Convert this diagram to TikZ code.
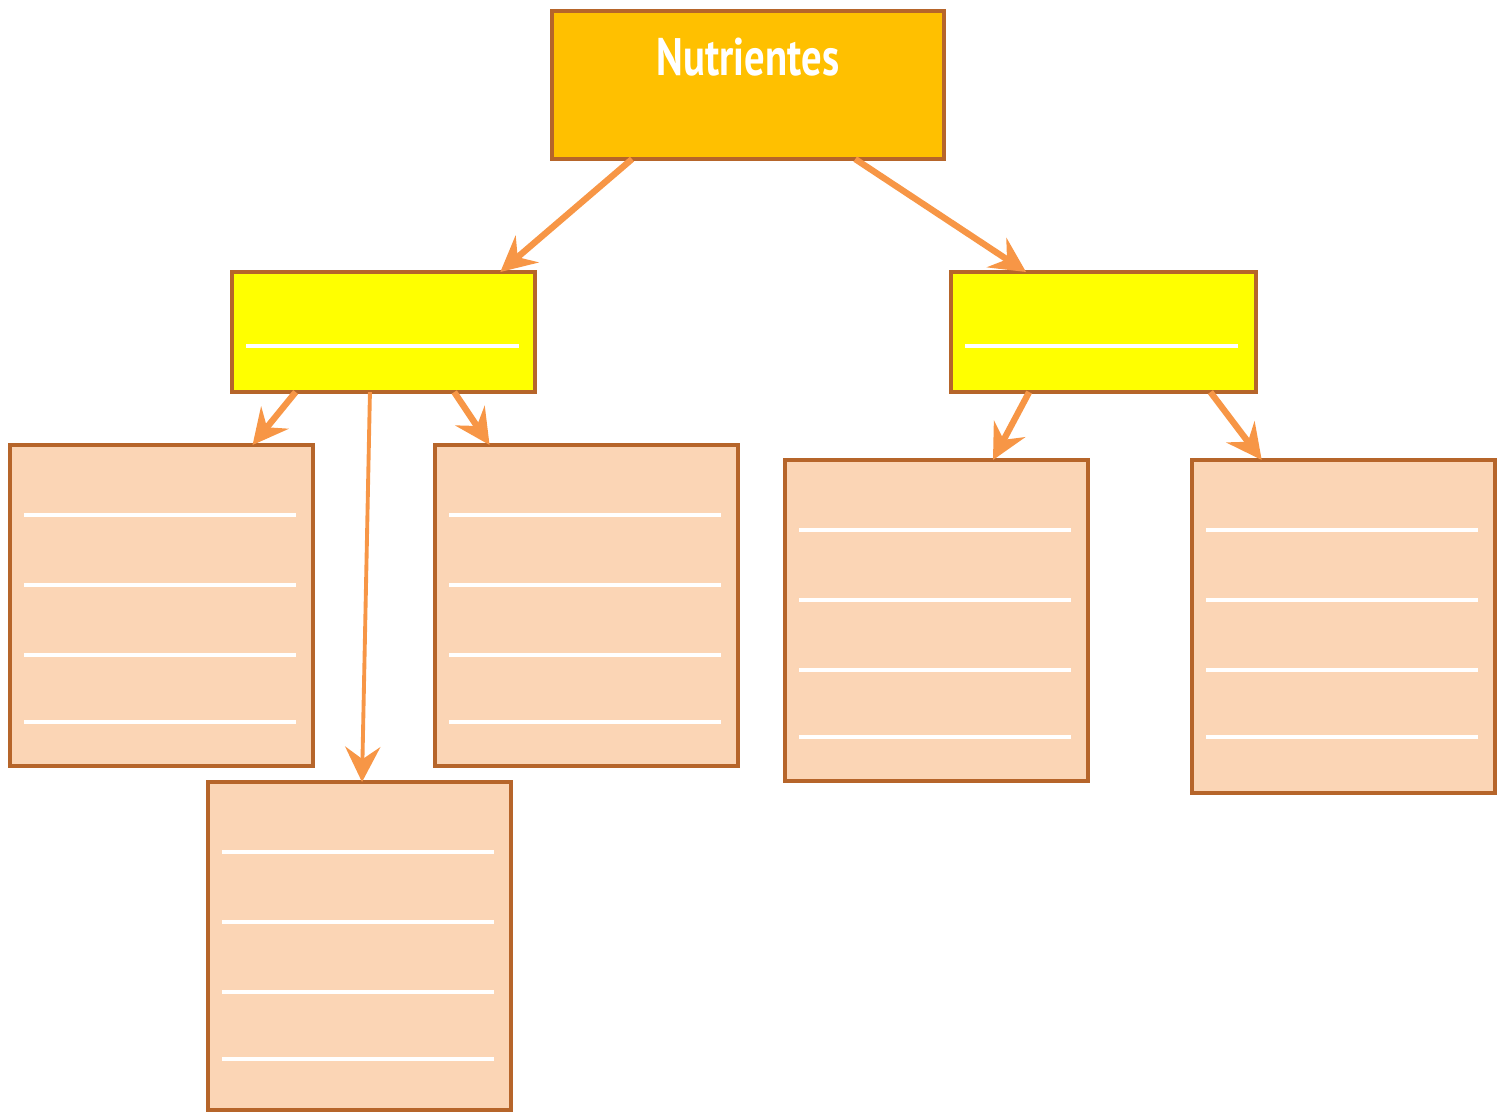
\documentclass[tikz,border=0pt]{standalone}
\usepackage{xcolor}
\usepackage{tikz}
\usepackage{fontspec}
\usetikzlibrary{arrows.meta,calc}
\newfontfamily\titlefont[FakeStretch=0.77]{PT Sans}
\definecolor{marco}{RGB}{182,101,42}
\definecolor{oro}{RGB}{255,192,0}
\definecolor{amarillo}{RGB}{255,255,0}
\definecolor{durazno}{RGB}{251,213,181}
\definecolor{flecha}{RGB}{247,150,70}

\begin{document}
\begin{tikzpicture}[x=0.01cm, y=-0.01cm,
    caja/.style={draw=marco, line width=1.25pt, anchor=north west, inner sep=0pt, outer sep=0pt},
    hoja/.style={caja, fill=durazno, minimum width=3.03cm, minimum height=3.21cm},
    linea/.style={white, line width=1.3pt},
    flec/.style={-{Stealth[length=10pt,width=10pt,inset=3.5pt]}, flecha, line width=1.8pt}]
                        \useasboundingbox (0,0) rectangle (1503,1112);

                        \node (0) at (552,11) [caja, fill=oro, minimum width=3.92cm, text height=0.64cm, text depth=0.84cm, text=white, font=\titlefont\bfseries\fontsize{15}{15}\selectfont] {Nutrientes};
                        \node (1) at (232,272) [caja, fill=amarillo, minimum width=3.03cm, minimum height=1.2cm] {};
                        \node (2) at (951,272) [caja, fill=amarillo, minimum width=3.05cm, minimum height=1.2cm] {};
                        \node (3) at (10,445) [hoja] {};
                        \node (4) at (208,782) [hoja, minimum height=3.28cm] {};
                        \node (5) at (435,445) [hoja] {};
                        \node (6) at (785,460) [hoja] {};
                        \node (7) at (1192,460) [hoja, minimum height=3.33cm] {};

                        \draw[linea] (246,346) -- (519,346);
                        \draw[linea] (965,346) -- (1238,346);
                        \foreach \x/\y in {10/445, 208/782, 435/445, 785/460, 1192/460}
                            \foreach \d in {70,140,210,277}
                                \draw[linea] (\x+14,\y+\d) -- (\x+286,\y+\d);

                        \draw[flec] ($(0.south west)!.204!(0.south east)$) to ($(1.north west)!.885!(1.north east)$);
                        \draw[flec] ($(0.south west)!.773!(0.south east)$) to ($(2.north west)!.246!(2.north east)$);
                        \draw[flec] ($(1.south west)!.21!(1.south east)$) to ($(3.north west)!.8!(3.north east)$);
                        \draw[flec, line width=1.1pt] ($(1.south west)!.455!(1.south east)$) to ($(4.north west)!.508!(4.north east)$);
                        \draw[flec] ($(1.south west)!.733!(1.south east)$) to ($(5.north west)!.18!(5.north east)$);
                        \draw[flec] ($(2.south west)!.256!(2.south east)$) to ($(6.north west)!.686!(6.north east)$);
                        \draw[flec] ($(2.south west)!.85!(2.south east)$) to ($(7.north west)!.23!(7.north east)$);
                    \end{tikzpicture}
\end{document}
